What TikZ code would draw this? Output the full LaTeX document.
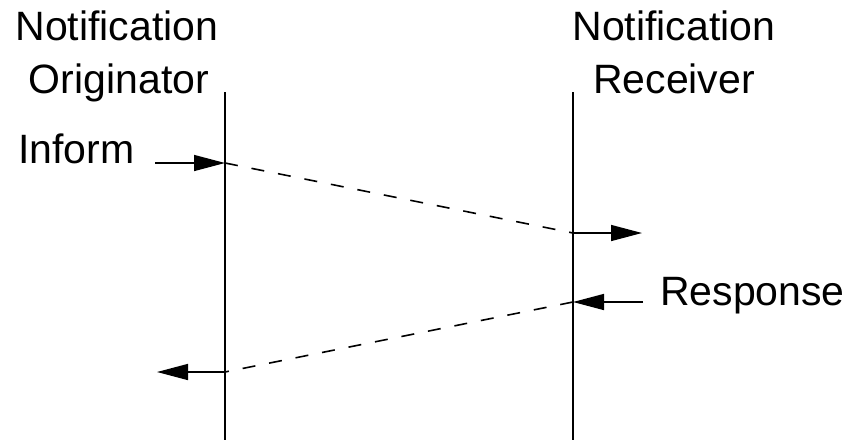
\documentclass[tikz,border=0pt]{standalone}
\usepackage{fontspec}
\setmainfont{Liberation Sans}
\usetikzlibrary{arrows.meta}
\begin{document}
\begin{tikzpicture}[x=1pt,y=-1pt,
		every node/.style={font=\fontsize{41}{49}\selectfont,inner sep=0pt},
		lifeline/.style={line width=1.6pt},
		msgarrow/.style={line width=1.5pt,-{Triangle[length=31pt,width=16pt]}},
		transit/.style={line width=1.6pt,dash pattern=on 13pt off 14pt},
		declare function={
			xOrig = 225;
			xRecv = 573;
			yTop = 92;
			yBot = 440;
			yInform = 163;
			yArrive = 233;
			yResp = 302;
			yBack = 372;
		}
		]
		\useasboundingbox (0,0) rectangle (852,440);
		% lifelines
		\coordinate (origTop) at (xOrig,yTop);
		\coordinate (origBot) at (xOrig,yBot);
		\coordinate (recvTop) at (xRecv,yTop);
		\coordinate (recvBot) at (xRecv,yBot);
		\draw[lifeline] (origTop) -- (origBot);
		\draw[lifeline] (recvTop) -- (recvBot);
		\node[anchor=base] (origName) at (117,40) {Notification};
		\node[anchor=base] (origRole) at (119,93) {Originator};
		\node[anchor=base] (recvName) at (674,40) {Notification};
		\node[anchor=base] (recvRole) at (674,93) {Receiver};
		% inform
		\coordinate (informIn) at (155,yInform);
		\coordinate (informSent) at (xOrig,yInform);
		\coordinate (informGot) at (xRecv,yArrive);
		\coordinate (informOut) at (642,yArrive);
		\node[anchor=base west] (informLbl) at (18,yInform) {Inform};
		\draw[msgarrow] (informIn) -- (informSent);
		\draw[transit] (informSent) -- (informGot);
		\draw[msgarrow] (informGot) -- (informOut);
		% response
		\coordinate (respIn) at (643,yResp);
		\coordinate (respSent) at (xRecv,yResp);
		\coordinate (respGot) at (xOrig,yBack);
		\coordinate (respOut) at (157,yBack);
		\node[anchor=base west] (respLbl) at (660,305) {Response};
		\draw[msgarrow] (respIn) -- (respSent);
		\draw[transit] (respSent) -- (respGot);
		\draw[msgarrow] (respGot) -- (respOut);
\end{tikzpicture}
\end{document}
